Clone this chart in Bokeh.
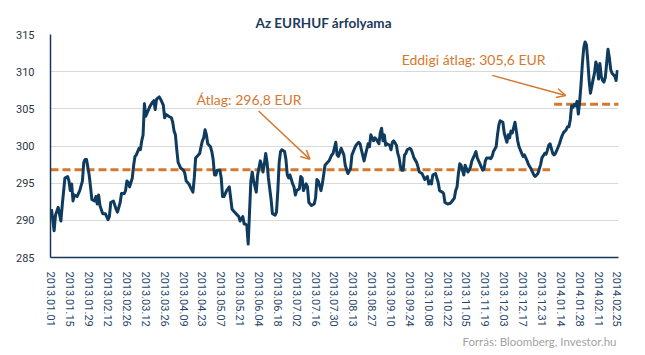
import pandas as pd
from bokeh.plotting import figure
from bokeh.models import (Range1d, FixedTicker, Label, Arrow, OpenHead, Title)
from bokeh.embed import file_html
from bokeh.resources import INLINE

# ---------------- data ----------------
start_date = "2013.01.01"
x_labels = ["2013.01.01", "2013.01.15", "2013.01.29", "2013.02.12", "2013.02.26",
            "2013.03.12", "2013.03.26", "2013.04.09", "2013.04.23", "2013.05.07",
            "2013.05.21", "2013.06.04", "2013.06.18", "2013.07.02", "2013.07.16",
            "2013.07.30", "2013.08.13", "2013.08.27", "2013.09.10", "2013.09.24",
            "2013.10.08", "2013.10.22", "2013.11.05", "2013.11.19", "2013.12.03",
            "2013.12.17", "2013.12.31", "2014.01.14", "2014.01.28", "2014.02.11",
            "2014.02.25"]
y_ticks = [285, 290, 295, 300, 305, 310, 315]

# days since 2013.01.01 and EURHUF rate
day_offset = [0, 2, 3, 5, 7, 8, 10, 12, 13, 14, 15, 16, 17, 19, 20, 21, 23, 24, 25, 26,
              28, 29, 30, 32, 33, 34, 35, 36, 38, 40, 42, 43, 44, 46, 48, 49, 51, 52, 54, 55,
              56, 57, 58, 60, 61, 62, 63, 65, 66, 67, 68, 69, 70, 73, 75, 76, 77, 78, 80, 81,
              83, 84, 85, 87, 89, 90, 91, 92, 93, 94, 96, 98, 99, 100, 102, 103, 105, 106, 107, 108,
              110, 111, 112, 113, 114, 115, 116, 118, 119, 120, 121, 122, 123, 125, 126, 127, 128, 130, 132, 133,
              134, 136, 138, 139, 140, 142, 143, 144, 145, 146, 147, 148, 149, 150, 152, 153, 155, 156, 157, 158,
              159, 160, 161, 163, 164, 166, 167, 168, 169, 170, 171, 173, 174, 175, 176, 177, 179, 180, 181, 182,
              184, 185, 186, 187, 189, 190, 191, 193, 195, 196, 197, 198, 200, 201, 202, 203, 205, 206, 208, 209,
              211, 212, 213, 215, 217, 218, 220, 222, 223, 225, 226, 228, 229, 230, 232, 233, 235, 236, 237, 239,
              240, 241, 243, 244, 245, 246, 247, 248, 249, 251, 252, 253, 254, 256, 257, 258, 259, 260, 261, 262,
              263, 264, 266, 267, 268, 269, 271, 272, 273, 275, 276, 277, 279, 280, 281, 282, 283, 285, 286, 287,
              288, 290, 291, 292, 294, 296, 297, 299, 300, 301, 302, 303, 304, 305, 306, 307, 309, 310, 311, 312,
              314, 315, 316, 317, 318, 320, 321, 322, 323, 325, 326, 327, 328, 330, 331, 332, 333, 335, 336, 337,
              338, 339, 340, 341, 342, 344, 345, 346, 347, 349, 350, 351, 352, 353, 354, 356, 357, 358, 359, 361,
              362, 363, 364, 366, 367, 368, 369, 370, 372, 373, 374, 375, 377, 378, 379, 380, 382, 383, 384, 385,
              386, 387, 388, 389, 390, 391, 392, 393, 394, 395, 396, 397, 398, 399, 400, 402, 403, 404, 405, 406,
              407, 408, 409, 410, 411, 412, 413, 414, 415, 416, 417, 418, 419, 420]
eurhuf = [291.5, 288.6, 290.7, 291.75, 289.9, 292.0, 295.7, 295.9, 295.3, 294.0, 294.9, 292.6, 293.4, 293.2, 293.6, 294.0, 295.3, 297.8, 298.2, 298.2,
          296.1, 294.5, 292.8, 292.6, 293.2, 292.2, 293.4, 292.0, 290.9, 290.9, 290.1, 290.5, 292.4, 292.6, 291.5, 291.1, 292.4, 293.6, 293.6, 294.0,
          295.3, 295.1, 294.5, 295.7, 297.4, 298.6, 298.8, 299.7, 299.5, 300.7, 301.5, 305.7, 304.0, 305.3, 305.9, 306.1, 304.9, 306.3, 306.6, 306.3,
          305.5, 303.8, 304.25, 304.0, 303.8, 303.2, 302.0, 301.5, 299.5, 297.8, 297.0, 296.75, 296.3, 295.3, 294.9, 294.5, 293.8, 295.7, 298.4, 298.6,
          299.0, 299.9, 300.7, 301.1, 302.2, 301.5, 300.3, 299.9, 299.25, 298.2, 296.1, 296.1, 296.75, 296.75, 295.7, 293.2, 293.2, 294.0, 294.5, 293.0,
          291.5, 291.1, 290.7, 290.5, 289.9, 290.5, 289.5, 289.5, 289.3, 286.8, 291.1, 295.3, 296.5, 295.3, 293.8, 296.1, 298.0, 297.4, 296.5, 297.6,
          299.0, 297.8, 295.7, 292.8, 290.9, 290.7, 291.1, 294.0, 297.8, 299.25, 299.5, 299.25, 298.2, 296.1, 295.7, 296.1, 294.9, 294.5, 293.4, 294.0,
          294.25, 295.9, 295.7, 294.0, 294.9, 294.5, 292.4, 292.0, 292.2, 293.0, 295.5, 295.3, 294.0, 294.9, 296.1, 297.4, 297.8, 298.0, 298.8, 299.0,
          300.5, 298.8, 298.6, 299.7, 298.8, 297.4, 296.3, 297.0, 298.8, 299.7, 300.1, 300.5, 300.3, 299.5, 298.0, 298.8, 300.3, 299.9, 301.5, 300.7,
          301.1, 300.9, 300.3, 301.75, 302.4, 300.7, 301.5, 300.1, 300.3, 300.1, 299.5, 300.5, 300.7, 300.1, 299.0, 298.4, 297.2, 296.75, 296.75, 298.8,
          299.0, 299.5, 299.7, 299.5, 299.0, 298.4, 297.8, 297.2, 296.5, 296.3, 295.9, 295.5, 295.9, 294.9, 295.3, 294.9, 296.1, 296.3, 295.7, 295.1,
          294.0, 293.8, 293.6, 292.4, 292.2, 292.3, 292.5, 293.0, 294.0, 294.5, 296.3, 297.6, 297.4, 296.75, 296.1, 297.4, 296.5, 296.75, 297.2, 298.0,
          298.8, 299.25, 298.4, 298.0, 297.6, 296.75, 296.9, 298.0, 298.4, 298.4, 298.3, 298.6, 299.25, 299.9, 301.5, 302.8, 303.4, 303.2, 301.75, 301.1,
          300.5, 301.5, 301.1, 302.0, 301.75, 303.2, 302.0, 300.7, 299.9, 299.0, 298.6, 298.8, 298.4, 298.0, 297.5, 296.9, 296.5, 296.1, 295.9, 296.3,
          296.9, 297.5, 298.4, 299.0, 298.9, 299.4, 300.1, 300.3, 299.0, 298.8, 299.0, 299.4, 300.3, 300.9, 301.4, 301.8, 302.2, 302.6, 302.6, 303.5,
          305.4, 305.2, 305.6, 305.4, 306.0, 304.3, 306.0, 308.3, 311.1, 313.2, 314.0, 313.6, 311.5, 308.8, 307.1, 309.0, 309.8, 311.3, 310.7, 309.0,
          311.1, 309.4, 308.8, 308.6, 309.2, 311.1, 313.0, 311.9, 310.3, 309.8, 309.6, 309.4, 308.8, 310.2]

# averages: 2013 average and year-to-date 2014 average
avg_values = [296.8, 305.6]
avg_from = ["2013.01.01", "2014.01.09"]
avg_to = ["2014.01.06", "2014.03.02"]
avg_texts = ["Átlag: 296,8 EUR", "Eddigi átlag: 305,6 EUR"]

title_text = "Az EURHUF árfolyama"
source_text = "Forrás: Bloomberg, Investor.hu"

# ---------------- helpers ----------------
t0 = pd.to_datetime(start_date, format="%Y.%m.%d")
def to_day(s):
    return (pd.to_datetime(s, format="%Y.%m.%d") - t0).days

tick_days = [to_day(s) for s in x_labels]

NAVY = "#0f3b5f"
ORANGE = "#d5782f"
LABEL_FONT = "'Liberation Sans Narrow', Roboto, sans-serif"
TEXT_FONT = "Lato"

p = figure(width=640, height=350, output_backend="svg", toolbar_location=None,
           x_range=Range1d(-0.7, 420.8), y_range=Range1d(285, 315),
           min_border_left=50, min_border_right=22, min_border_top=34, min_border_bottom=79)
p.outline_line_color = None
p.background_fill_color = "white"
p.border_fill_color = "white"

# title
p.title.text = title_text
p.title.align = "left"
p.title.offset = 205
p.title.standoff = 7
p.title.text_font = TEXT_FONT
p.title.text_font_style = "bold"
p.title.text_font_size = "13.5px"
p.title.text_color = "#1d3b5c"

# grid
p.xgrid.grid_line_color = None
p.ygrid.grid_line_color = "#d9d9d9"
p.ygrid.grid_line_width = 1

# axes
p.yaxis.ticker = FixedTicker(ticks=y_ticks)
p.xaxis.ticker = FixedTicker(ticks=tick_days)
p.xaxis.major_label_overrides = {d: s for d, s in zip(tick_days, x_labels)}
p.xaxis.major_label_orientation = "vertical"
for ax in (p.xaxis, p.yaxis):
    ax.axis_line_color = "#17375a"
    ax.axis_line_width = 1.5
    ax.major_tick_line_color = None
    ax.minor_tick_line_color = None
    ax.major_label_text_font = LABEL_FONT
    ax.major_label_text_font_size = "11px"
p.xaxis.major_label_text_color = "#26456b"
p.yaxis.major_label_text_color = "#2a3645"
p.xaxis.major_label_standoff = 8
p.yaxis.major_label_standoff = 10

# average dashed lines
for v, a, b in zip(avg_values, avg_from, avg_to):
    p.line([to_day(a) - 0.7 if a == start_date else to_day(a), to_day(b)], [v, v],
           line_color=ORANGE, line_width=3, line_dash="8 4")

# main series
p.line(day_offset, eurhuf, line_color=NAVY, line_width=3, line_join="round")

# annotations
p.add_layout(Label(x=107.6, y=306.2, text=avg_texts[0], text_align="left",
                   text_baseline="middle", text_font=TEXT_FONT,
                   text_font_size="14px", text_color=ORANGE))
p.add_layout(Label(x=366.7, y=311.6, text=avg_texts[1], text_align="right",
                   text_baseline="middle", text_font=TEXT_FONT,
                   text_font_size="14px", text_color=ORANGE))
p.add_layout(Arrow(x_start=153.7, y_start=304.7, x_end=191.8, y_end=298.2,
                   line_color=ORANGE, line_width=1.5,
                   end=OpenHead(size=9, line_color=ORANGE, line_width=1.5)))
p.add_layout(Arrow(x_start=327.1, y_start=309.5, x_end=381.6, y_end=306.8,
                   line_color=ORANGE, line_width=1.5,
                   end=OpenHead(size=9, line_color=ORANGE, line_width=1.5)))

# source note
p.add_layout(Title(text=source_text, align="right", offset=2, standoff=6,
                   text_font=TEXT_FONT, text_font_style="normal",
                   text_font_size="11.5px", text_color="#a3a3a3"), "below")

open("out.html", "w").write(file_html(p, INLINE))
